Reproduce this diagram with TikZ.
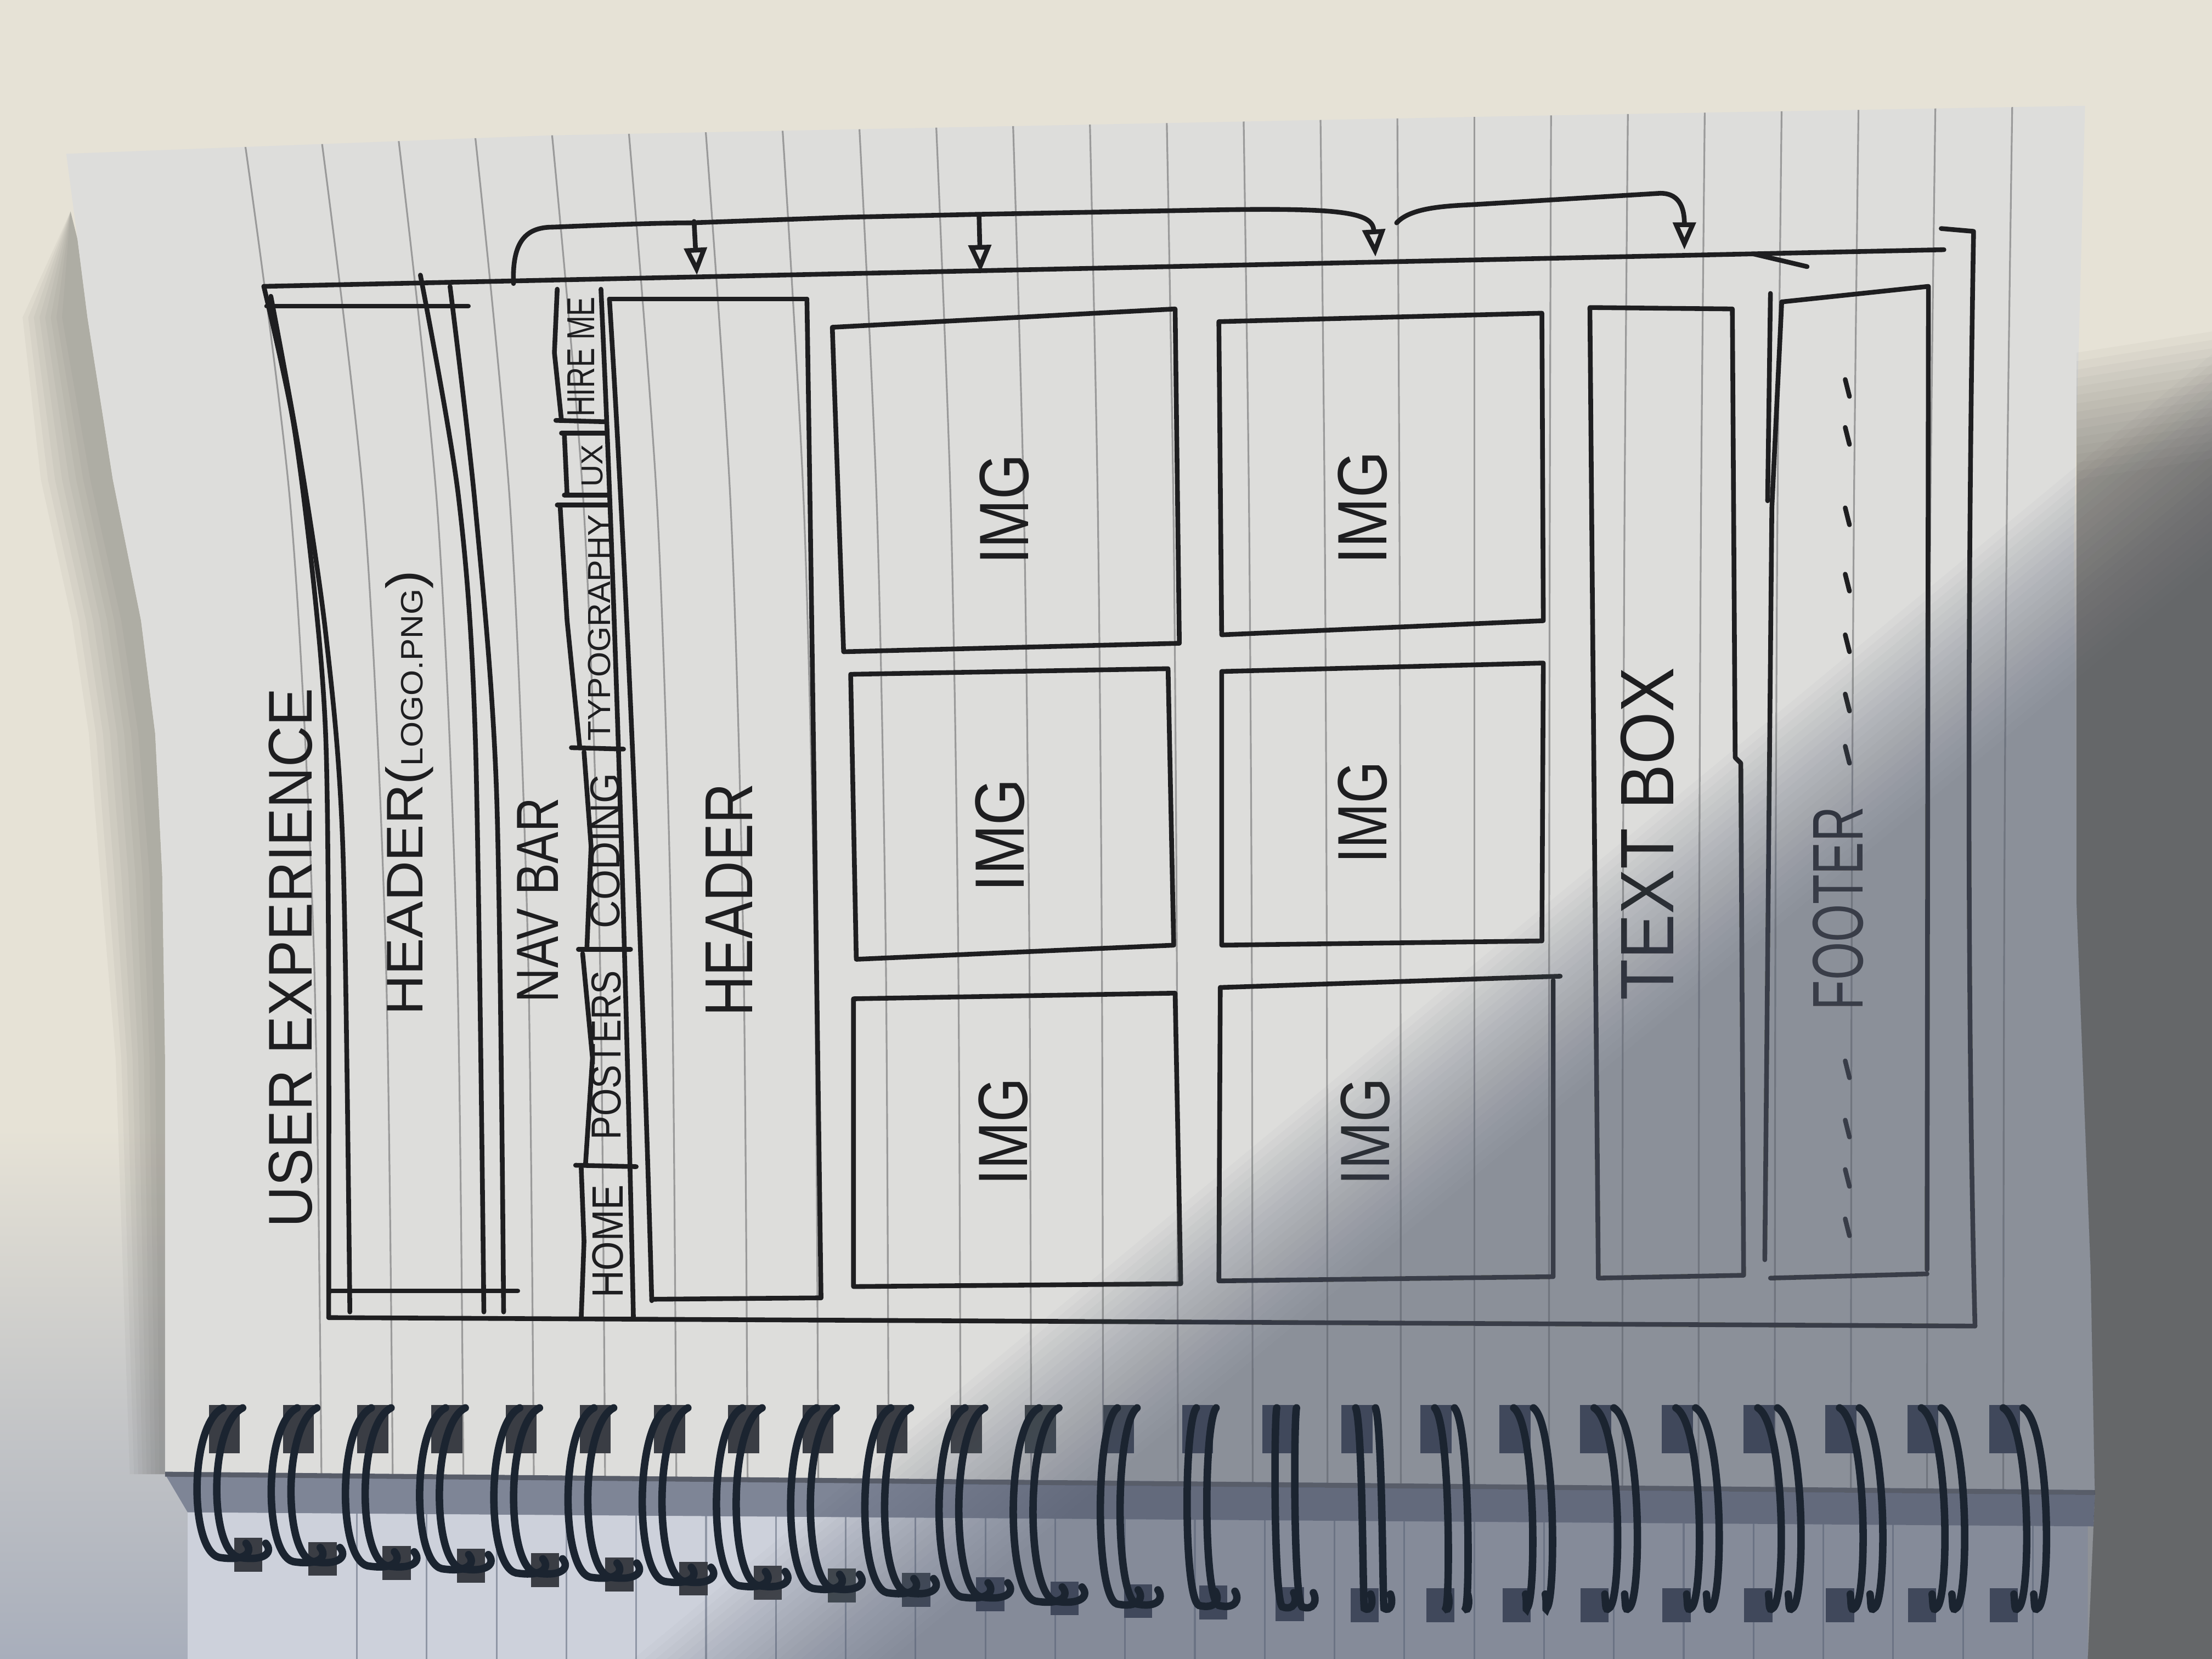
\documentclass[tikz,border=0pt]{standalone}
\usepackage{fontspec}
\setmainfont{Liberation Sans}
\usepackage{graphicx}
\usetikzlibrary{arrows.meta}

\definecolor{desk}{HTML}{E6E2D6}
\definecolor{deskblue}{HTML}{A8AEBB}
\definecolor{paper}{HTML}{DDDDDB}
\definecolor{rulec}{HTML}{9A9A9A}
\definecolor{backrule}{HTML}{8F96A5}
\definecolor{ink}{HTML}{1E1E20}
\definecolor{shadowc}{HTML}{5C6477}
\definecolor{edgeshadow}{HTML}{5E5E5A}
\definecolor{wire}{HTML}{1B2430}
\definecolor{holec}{HTML}{3A3D44}
\definecolor{backpage}{HTML}{CDD1DB}
\definecolor{stackc}{HTML}{7E8596}

% hand lettering: text squeezed into a given length and thickness (cm)
\newcommand{\hw}[3]{\resizebox*{#1cm}{#2cm}{#3}}
% outline of the front sheet
\newcommand{\pagepath}{(47,109) -- (389,96) -- (1089,82) -- (1478,75) -- (1470,380) -- (1472,640) -- (1482,900) -- (1485,1058) -- (117,1045) -- (117,750) -- (115,620) -- (110,520) -- (100,440) -- (80,340) -- (62,225) -- (55,170) -- cycle}

\begin{document}
\begin{tikzpicture}[x=0.01cm, y=-0.01cm,
  pen/.style={draw=ink, line width=0.95pt, line cap=round, line join=round},
  ruleline/.style={draw=rulec, line width=0.35pt},
  lbl/.style={inner sep=0pt, outer sep=0pt, rotate=90, text=ink},
  wirestyle/.style={draw=wire, line width=1.5pt, line cap=round},
  arrowhd/.style={-{Triangle[open,length=5.5pt,width=4.5pt]}}]
\useasboundingbox (0,0) rectangle (1568,1176);
\begin{scope}
\clip (0,0) rectangle (1568,1176);

% desk
\fill[desk] (0,0) rectangle (1568,1176);
\shade[top color=desk, bottom color=deskblue] (0,800) rectangle (140,1176);

% soft shadow of the lifted sheet edge on the desk
\foreach \i in {0,...,7}
  \fill[edgeshadow, opacity=0.06] (50,150) -- (55,170) -- (62,225) -- (80,340) -- (100,440) -- (110,520) -- (115,620) -- (117,750) -- (117,1045)
     -- ({113-3*\i},1045) -- ({110-4*\i},750) -- ({106-5*\i},620) -- ({98-5*\i},520) -- ({86-5*\i},440) -- ({64-5*\i},340) -- ({44-4*\i},225) -- cycle;

% back sheet below the binding
\fill[backpage] (133,1068) -- (1480,1076) -- (1480,1176) -- (133,1176) -- cycle;
\begin{scope}
\clip (133,1068) -- (1480,1076) -- (1480,1176) -- (133,1176) -- cycle;
\foreach \j in {0,...,24}
  \draw[draw=backrule, line width=0.35pt] ({253+49.5*\j},1068) -- ({253+49.5*\j},1176);
\end{scope}
\fill[stackc] (117,1045) -- (1485,1058) -- (1484,1082) -- (133,1072) -- cycle;

% back holes of the binding
\foreach \h/\b/\yb in {148/-22/1104, 200.6/-22/1107, 253.2/-22/1110, 305.8/-22/1112, 358.4/-22/1115, 411/-22/1118, 463.6/-22/1121, 516.2/-22/1124, 568.8/-22/1126, 621.4/-22/1129, 674/-22/1132, 726.6/-22/1135, 782/-14/1137, 838/-7/1138, 895/0/1139, 951/7/1140, 1007/13/1140, 1063/18/1140, 1120/22/1140, 1178/22/1140, 1236/22/1140, 1294/22/1140, 1352/22/1140, 1410/22/1140}
  \fill[holec] ({\h+18-0.4*(\b+22)},{\yb-14}) rectangle ++(20,24);

% front sheet with its ruling
\fill[paper] \pagepath;
\begin{scope}
\clip \pagepath;
\foreach \xt/\d in {173/55, 227.5/51, 282/46.6, 336.5/42, 391/38, 445.5/34, 500/30, 554.5/25.6, 609/21, 663.5/17.5, 718/13, 772.5/9.5, 827/8, 881.5/6.5, 936/5, 990.5/2.5, 1045/0, 1099.5/-1.5, 1154/-4, 1208.5/-4.5, 1263/-5, 1317.5/-5.5, 1372/-6, 1426.5/-6.5}
  \draw[ruleline] plot[smooth] coordinates {({\xt},{100-0.023*(\xt-47)}) ({\xt+0.6*\d},360) ({\xt+0.9*\d},675) ({\xt+\d},1060)};
\end{scope}
\draw[draw=stackc!70!black, line width=1pt] (117,1045) -- (1485,1058);

% punched holes of the front sheet
\foreach \h in {148, 200.6, 253.2, 305.8, 358.4, 411, 463.6, 516.2, 568.8, 621.4, 674, 726.6, 782, 838, 895, 951, 1007, 1063, 1120, 1178, 1236, 1294, 1352, 1410}
  \fill[holec] (\h,996) rectangle ++(22,34);

% ---------------- wireframe ----------------
% outer frame
\draw[pen] (187,203) -- (1378,177);
\draw[pen] (1376,162) -- (1399,164) .. controls (1395,400) and (1394,700) .. (1400,940);
\draw[pen] (233,934) -- (1400,940);
\draw[pen] plot[smooth] coordinates {(187,203) (208,300) (223,420) (231,525) (233,700) (233,934)};
% logo header block
\draw[pen] plot[smooth] coordinates {(192,210) (212,320) (231,450) (243,600) (248,930)};
\draw[pen] (189,217) -- (332,217);
\draw[pen] plot[smooth] coordinates {(298,195) (325,352) (337,525) (343,930)};
\draw[pen] plot[smooth] coordinates {(319,203) (337,360) (352,562) (357,930)};
\draw[pen] (233,915) -- (367,915);

% navigation items
\draw[pen] (426,205) .. controls (436,420) and (444,700) .. (449,934);
\draw[pen] (395,205) -- (393,250) -- (398,298);
\draw[pen] (400,307) -- (402,351);
\draw[pen] (397,358) -- (402,440) -- (411,530);
\draw[pen] (414,533) -- (419,600) -- (416,673);
\draw[pen] (413,676) -- (420,750) -- (415,826);
\draw[pen] (412,828) -- (414,880) -- (412,934);
\draw[pen] (394,298) -- (430,299);
\draw[pen] (398,307) -- (430,307);
\draw[pen] (400,351) -- (432,351);
\draw[pen] (395,358) -- (432,358);
\draw[pen] (405,530) -- (442,531);
\draw[pen] (410,673) -- (447,673);
\draw[pen] (408,826) -- (451,827);

% page header block
\draw[pen] (432,212) .. controls (445,420) and (456,700) .. (462,922);
\draw[pen] (432,212) -- (572,212);
\draw[pen] (572,212) .. controls (575,400) and (579,700) .. (582,920);
\draw[pen] (462,921) -- (582,920);

% image grid
\draw[pen] (590,232) -- (833,219) -- (836,456) -- (598,462) -- cycle;
\draw[pen] (603,478) -- (828,474) -- (832,670) -- (607,680) -- cycle;
\draw[pen] (605,708) -- (833,704) -- (837,910) -- (605,912) -- cycle;
\draw[pen] (864,228) -- (1093,222) -- (1094,440) -- (866,450) -- cycle;
\draw[pen] (866,476) -- (1094,470) -- (1093,667) -- (866,670) -- cycle;
\draw[pen] (865,700) -- (1106,692);
\draw[pen] (1101,695) -- (1101,905) -- (864,908) -- (865,700);

% text box
\draw[pen] (1127,218) -- (1228,219) -- (1230,537) -- (1234,541) -- (1236,904) -- (1133,906) -- cycle;

% footer
\draw[pen] (1263,214) -- (1367,203) -- (1366,900);
\draw[pen] (1255,906) -- (1366,903);
\draw[pen] (1263,214) -- (1256,360) -- (1251,893);
\draw[pen] (1255,208) -- (1253,355);
\draw[pen] (1243,180) -- (1281,189);
\foreach \y in {275,309,366,413,456,498,535,758,800,835,870}
  \draw[pen] (1308,{\y-6}) -- (1311,{\y+6});

% linking arrows along the top
\coordinate (s0) at (364,201);
\coordinate (s1) at (492,157);
\coordinate (s2) at (694,152);
\coordinate (s3) at (990,158);
\coordinate (t1) at (494,195);
\coordinate (t2) at (695,193);
\coordinate (t3) at (975,182);
\coordinate (t4) at (1194,177);
\draw[pen, arrowhd] (s0) .. controls (363,172) and (372,161) .. (392,161) .. controls (440,159) and (470,158) .. (489,158) -- (600,154) -- (690,152) -- (850,149) .. controls (950,147) and (973,150) .. (t3);
\draw[pen, arrowhd] (s3) .. controls (1000,147) and (1025,146) .. (1045,145) -- (1177,137) .. controls (1192,137) and (1194,150) .. (t4);
\draw[pen, arrowhd] (s1) -- (t1);
\draw[pen, arrowhd] (s2) -- (t2);

% lettering
\node[lbl] (title) at (206,679) {\hw{3.82}{0.31}{USER EXPERIENCE}};
\node[lbl] (logohdr) at (290,562) {\hw{3.15}{0.34}{HEADER({\fontsize{6}{7}\selectfont LOGO.PNG})}};
\node[lbl] (navbar) at (381,638) {\hw{1.45}{0.29}{NAV BAR}};
\node[lbl] (home) at (431,880) {\hw{0.80}{0.22}{HOME}};
\node[lbl] (posters) at (430,748) {\hw{1.20}{0.21}{POSTERS}};
\node[lbl] (coding) at (429,603) {\hw{1.10}{0.21}{CODING}};
\node[lbl] (typo) at (425,445) {\hw{1.60}{0.16}{TYPOGRAPHY}};
\node[lbl] (ux) at (420,330) {\hw{0.30}{0.15}{UX}};
\node[lbl] (hire) at (412,253) {\hw{0.85}{0.19}{HIRE ME}};
\node[lbl] (hdr) at (517,638) {\hw{1.65}{0.33}{HEADER}};
\node[lbl] (img1) at (712,361) {\hw{0.78}{0.35}{IMG}};
\node[lbl] (img2) at (709,592) {\hw{0.80}{0.35}{IMG}};
\node[lbl] (img3) at (711,802) {\hw{0.76}{0.35}{IMG}};
\node[lbl] (img4) at (966,360) {\hw{0.80}{0.35}{IMG}};
\node[lbl] (img5) at (966,576) {\hw{0.72}{0.35}{IMG}};
\node[lbl] (img6) at (968,802) {\hw{0.76}{0.35}{IMG}};
\node[lbl] (textbox) at (1168,591) {\hw{2.36}{0.38}{TEXT BOX}};
\node[lbl] (footer) at (1303,644) {\hw{1.44}{0.36}{FOOTER}};

% ---------------- lighting ----------------
% soft diagonal shadow across the right part
\foreach \i in {0,...,23}
  \fill[shadowc, opacity=0.034] ({1700+3.2*\i},{142+3.9*\i}) -- (1800,1400) -- ({299+3.2*\i},{1300+3.9*\i}) -- cycle;
% darker desk beside the sheet
\foreach \i in {0,...,15}
  \fill[black!80, opacity=0.03] (1472,{250+6*\i}) -- (1568,{235+6*\i}) -- (1568,1176) -- (1480,1176) -- (1485,1060) -- (1482,900) -- (1472,640) -- cycle;

% spiral binding
\foreach \h/\b/\yb in {148/-22/1104, 200.6/-22/1107, 253.2/-22/1110, 305.8/-22/1112, 358.4/-22/1115, 411/-22/1118, 463.6/-22/1121, 516.2/-22/1124, 568.8/-22/1126, 621.4/-22/1129, 674/-22/1132, 726.6/-22/1135, 782/-14/1137, 838/-7/1138, 895/0/1139, 951/7/1140, 1007/13/1140, 1063/18/1140, 1120/22/1140, 1178/22/1140, 1236/22/1140, 1294/22/1140, 1352/22/1140, 1410/22/1140}
  \foreach \o in {0,14}
    \draw[wirestyle] ({\h+10+\o},998) .. controls ({\h+8+\o+\b},1010) and ({\h+8+\o+\b},{\yb-5}) .. ({\h+14+\o+0.3*\b},\yb) .. controls ({\h+22+\o-0.2*\b},{\yb+3}) and ({\h+25+\o-0.3*\b},{\yb-4}) .. ({\h+22+\o-0.2*\b},{\yb-10});
\end{scope}
\end{tikzpicture}
\end{document}
